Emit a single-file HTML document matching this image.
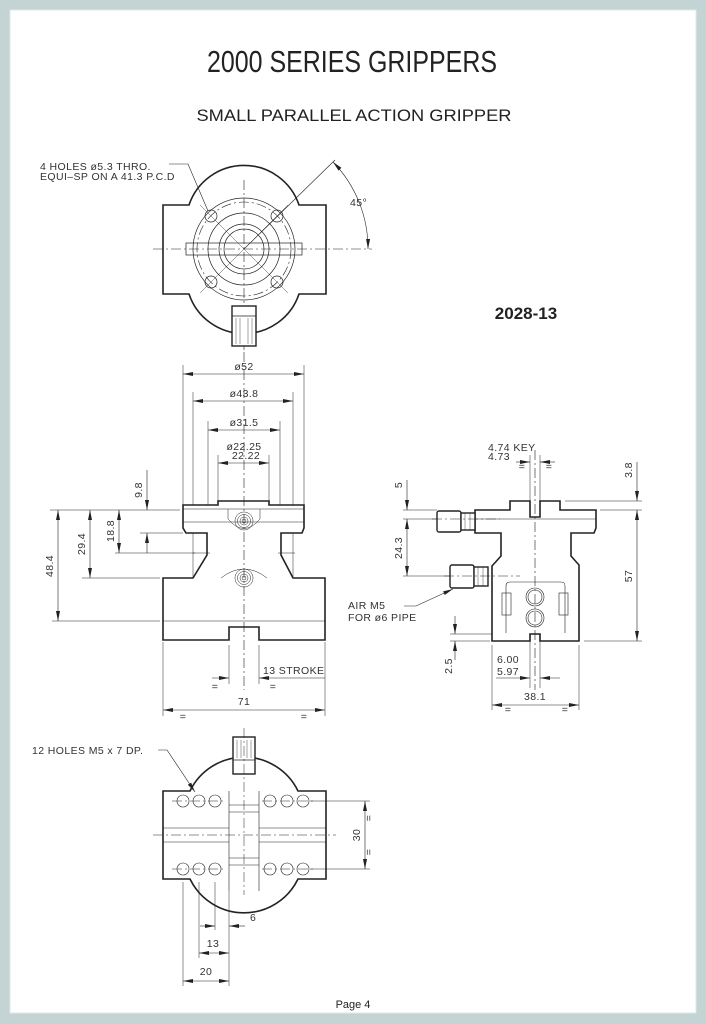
<!DOCTYPE html>
<html><head><meta charset="utf-8"><style>
html,body{margin:0;padding:0;background:#c4d4d4;}
svg{display:block;}
text{font-family:"Liberation Sans",sans-serif;fill:#222;}
.d{font-size:10.5px;fill:#333;letter-spacing:0.4px;}
</style></head><body>
<svg width="706" height="1024" viewBox="0 0 706 1024" xmlns="http://www.w3.org/2000/svg">
<defs>
<marker id="a" markerWidth="10" markerHeight="6" refX="10" refY="3" orient="auto-start-reverse" markerUnits="userSpaceOnUse">
<path d="M0,1 L10,3 L0,5 Z" fill="#222"/></marker>
</defs>
<rect x="0" y="0" width="706" height="1024" fill="#c4d4d4"/>
<rect x="10" y="10" width="686" height="1003" fill="#fff" stroke="#dde8e8" stroke-width="1"/>

<text x="352" y="72" font-size="31" text-anchor="middle" textLength="290" lengthAdjust="spacingAndGlyphs">2000 SERIES GRIPPERS</text>
<text x="354" y="121" font-size="17" text-anchor="middle" textLength="315" lengthAdjust="spacingAndGlyphs">SMALL PARALLEL ACTION GRIPPER</text>
<text x="526" y="319" font-size="17" font-weight="bold" text-anchor="middle">2028-13</text>
<text x="353" y="1008" font-size="11" text-anchor="middle">Page 4</text>

<g fill="none" stroke="#222">
<!-- ===== TOP VIEW ===== -->
<path d="M163,205 H189 A58,58 0 0 1 299,205 H326 V294 H299 A58,58 0 0 1 189,294 H163 Z" stroke-width="1.6" fill="#fff"/>
<g stroke-width="0.6" stroke-dasharray="10,3,2,3">
<line x1="153" y1="249" x2="372" y2="249"/>
<line x1="244" y1="180" x2="244" y2="350"/>
<circle cx="244" cy="249" r="47"/>
</g>
<g stroke-width="0.7">
<circle cx="244" cy="249" r="51"/>
<circle cx="244" cy="249" r="36"/>
<circle cx="244" cy="249" r="25"/>
<circle cx="244" cy="249" r="20"/>
<rect x="186" y="243" width="116" height="12"/>
<circle cx="211" cy="216" r="6"/><circle cx="277" cy="216" r="6"/>
<circle cx="211" cy="282" r="6"/><circle cx="277" cy="282" r="6"/>
<line x1="200" y1="205" x2="288" y2="293" stroke-width="0.4"/>
<line x1="288" y1="205" x2="200" y2="293" stroke-width="0.4"/>
</g>
<rect x="232" y="306" width="24" height="40" stroke-width="1.4" fill="#fff"/>
<line x1="232" y1="316" x2="256" y2="316" stroke-width="0.8"/>
<g stroke-width="0.4"><line x1="236" y1="318" x2="236" y2="344"/><line x1="240" y1="318" x2="240" y2="344"/><line x1="248" y1="318" x2="248" y2="344"/><line x1="252" y1="318" x2="252" y2="344"/></g>
<g stroke-width="0.6">
<polyline points="169,164 188,164 208,211"/>
<line x1="244" y1="249" x2="335" y2="160"/>
<path d="M333,162 A124,124 0 0 1 368,249" marker-start="url(#a)" marker-end="url(#a)"/>
</g>

<!-- ===== FRONT VIEW ===== -->
<g stroke-width="0.5">
<line x1="183" y1="365" x2="183" y2="505"/><line x1="304" y1="365" x2="304" y2="505"/>
<line x1="193" y1="392" x2="193" y2="578"/><line x1="293" y1="392" x2="293" y2="578"/>
<line x1="208" y1="421" x2="208" y2="540"/><line x1="280" y1="421" x2="280" y2="540"/>
<line x1="218" y1="455" x2="218" y2="501"/><line x1="269" y1="455" x2="269" y2="501"/>
</g>
<g stroke-width="0.6">
<line x1="183" y1="374" x2="304" y2="374" marker-start="url(#a)" marker-end="url(#a)"/>
<line x1="193" y1="401" x2="293" y2="401" marker-start="url(#a)" marker-end="url(#a)"/>
<line x1="208" y1="430" x2="280" y2="430" marker-start="url(#a)" marker-end="url(#a)"/>
<line x1="218" y1="463" x2="269" y2="463" marker-start="url(#a)" marker-end="url(#a)"/>
</g>
<path d="M183,505 H218 V501 H269 V505 H304 V528 L302,533 H281 V555 L293,578 H325 V640 H259 V627 H229 V640 H163 V578 H193 L207,555 V533 H186 L183,528 Z" stroke-width="1.6" fill="#fff"/>
<g stroke-width="0.5">
<line x1="183" y1="509" x2="304" y2="509"/>
<line x1="163" y1="621" x2="325" y2="621"/>
<line x1="183" y1="522" x2="304" y2="522"/>
<line x1="193" y1="553" x2="210" y2="553"/><line x1="278" y1="553" x2="295" y2="553"/>
<path d="M221,578 Q244,560 267,578"/>
<path d="M228,509 V519 Q244,538 260,519 V509"/>
<circle cx="244" cy="521" r="9"/><circle cx="244" cy="521" r="6.5"/><circle cx="244" cy="521" r="4"/><circle cx="244" cy="521" r="2"/>
<circle cx="244" cy="578" r="9"/><circle cx="244" cy="578" r="6.5"/><circle cx="244" cy="578" r="4"/><circle cx="244" cy="578" r="2"/>
</g>
<line x1="244" y1="352" x2="244" y2="690" stroke-width="0.6" stroke-dasharray="10,3,2,3"/>
<g stroke-width="0.5">
<line x1="50" y1="510" x2="180" y2="510"/>
<line x1="82" y1="578" x2="160" y2="578"/>
<line x1="115" y1="553" x2="195" y2="553"/>
<line x1="140" y1="533" x2="183" y2="533"/>
<line x1="52" y1="621" x2="160" y2="621"/>
<line x1="163" y1="642" x2="163" y2="716"/><line x1="325" y1="642" x2="325" y2="716"/>
<line x1="229" y1="645" x2="229" y2="684"/><line x1="259" y1="645" x2="259" y2="684"/>
</g>
<g stroke-width="0.6">
<line x1="58" y1="510" x2="58" y2="621" marker-start="url(#a)" marker-end="url(#a)"/>
<line x1="90" y1="510" x2="90" y2="578" marker-start="url(#a)" marker-end="url(#a)"/>
<line x1="119" y1="510" x2="119" y2="553" marker-start="url(#a)" marker-end="url(#a)"/>
<line x1="147" y1="470" x2="147" y2="510" marker-end="url(#a)"/>
<line x1="147" y1="553" x2="147" y2="533" marker-end="url(#a)"/>
<line x1="212" y1="678" x2="229" y2="678" marker-end="url(#a)"/>
<line x1="325" y1="678" x2="259" y2="678" marker-end="url(#a)"/>
<line x1="163" y1="710" x2="325" y2="710" marker-start="url(#a)" marker-end="url(#a)"/>
</g>

<!-- ===== SIDE VIEW ===== -->
<g stroke-width="0.5">
<line x1="530" y1="455" x2="530" y2="517"/><line x1="540" y1="455" x2="540" y2="517"/>
<line x1="530" y1="634" x2="530" y2="688"/><line x1="540" y1="634" x2="540" y2="688"/>
<line x1="492" y1="645" x2="492" y2="710"/><line x1="579" y1="645" x2="579" y2="710"/>
<line x1="403" y1="510" x2="437" y2="510"/>
<line x1="403" y1="519" x2="437" y2="519"/>
<line x1="403" y1="576" x2="450" y2="576"/>
<line x1="565" y1="501" x2="642" y2="501"/>
<line x1="600" y1="510" x2="642" y2="510"/>
<line x1="584" y1="641" x2="642" y2="641"/>
<line x1="450" y1="634" x2="528" y2="634"/>
<line x1="450" y1="641" x2="490" y2="641"/>
</g>
<path d="M475,510 H510 V501 H530 V517 H540 V501 H560 V510 H596 V528 L594,533 H571 V556 L579,565 V641 H540 V634 H530 V641 H492 V566 L501,556 V533 H475 Z" stroke-width="1.6" fill="#fff"/>
<g stroke-width="0.6">
<line x1="475" y1="519" x2="596" y2="519"/>
<path d="M506,633 V586 Q506,582 510,582 H561 Q565,582 565,586 V633"/>
<rect x="502" y="593" width="9" height="22"/><rect x="559" y="593" width="9" height="22"/>
<circle cx="535" cy="597" r="9"/><circle cx="535" cy="597" r="7"/>
<circle cx="535" cy="618" r="9"/><circle cx="535" cy="618" r="7"/>
</g>
<g stroke-width="1.4" fill="#fff">
<rect x="437" y="511" width="24" height="21" rx="2"/><rect x="461" y="513" width="14" height="17"/>
<rect x="450" y="565" width="24" height="23" rx="2"/><rect x="474" y="567" width="14" height="19"/>
</g>
<g stroke-width="0.4">
<line x1="465" y1="513" x2="465" y2="530"/><line x1="470" y1="513" x2="470" y2="530"/>
<line x1="478" y1="567" x2="478" y2="586"/><line x1="483" y1="567" x2="483" y2="586"/>
</g>
<g stroke-width="0.6" stroke-dasharray="10,3,2,3">
<line x1="535" y1="450" x2="535" y2="690"/>
<line x1="432" y1="519" x2="500" y2="519"/>
<line x1="444" y1="576" x2="520" y2="576"/>
</g>
<g stroke-width="0.6">
<line x1="516" y1="462" x2="530" y2="462" marker-end="url(#a)"/>
<line x1="555" y1="462" x2="540" y2="462" marker-end="url(#a)"/>
<line x1="407" y1="480" x2="407" y2="510" marker-end="url(#a)"/>
<line x1="407" y1="519" x2="407" y2="576" marker-start="url(#a)" marker-end="url(#a)"/>
<line x1="637" y1="462" x2="637" y2="501" marker-end="url(#a)"/>
<line x1="637" y1="510" x2="637" y2="641" marker-start="url(#a)" marker-end="url(#a)"/>
<line x1="455" y1="616" x2="455" y2="634" marker-end="url(#a)"/>
<line x1="455" y1="660" x2="455" y2="641" marker-end="url(#a)"/>
<line x1="496" y1="678" x2="530" y2="678" marker-end="url(#a)"/>
<line x1="560" y1="678" x2="540" y2="678" marker-end="url(#a)"/>
<line x1="492" y1="705" x2="579" y2="705" marker-start="url(#a)" marker-end="url(#a)"/>
<polyline points="404,606 416,606 453,589" marker-end="url(#a)"/>
</g>

<!-- ===== BOTTOM VIEW ===== -->
<path d="M163,791 H190 A60,60 0 0 1 298,791 H326 V879 H298 A60,60 0 0 1 190,879 H163 Z" stroke-width="1.6" fill="#fff"/>
<rect x="233" y="737" width="22" height="37" stroke-width="1.4" fill="#fff"/>
<line x1="233" y1="760" x2="255" y2="760" stroke-width="0.8"/>
<g stroke-width="0.4"><line x1="237" y1="740" x2="237" y2="758"/><line x1="241" y1="740" x2="241" y2="758"/><line x1="247" y1="740" x2="247" y2="758"/><line x1="251" y1="740" x2="251" y2="758"/></g>
<g stroke-width="0.6">
<line x1="229" y1="791" x2="229" y2="891"/><line x1="259" y1="791" x2="259" y2="891"/>
<line x1="229" y1="805" x2="259" y2="805"/><line x1="229" y1="812" x2="259" y2="812"/>
<line x1="229" y1="858" x2="259" y2="858"/><line x1="229" y1="865" x2="259" y2="865"/>
<line x1="163" y1="828" x2="229" y2="828"/><line x1="259" y1="828" x2="326" y2="828"/>
<line x1="163" y1="842" x2="229" y2="842"/><line x1="259" y1="842" x2="326" y2="842"/>
<circle cx="183" cy="801" r="6"/><circle cx="199" cy="801" r="6"/><circle cx="215" cy="801" r="6"/>
<circle cx="270" cy="801" r="6"/><circle cx="287" cy="801" r="6"/><circle cx="303" cy="801" r="6"/>
<circle cx="183" cy="869" r="6"/><circle cx="199" cy="869" r="6"/><circle cx="215" cy="869" r="6"/>
<circle cx="270" cy="869" r="6"/><circle cx="287" cy="869" r="6"/><circle cx="303" cy="869" r="6"/>
</g>
<g stroke-width="0.5" stroke-dasharray="10,3,2,3">
<line x1="172" y1="801" x2="225" y2="801"/><line x1="262" y1="801" x2="314" y2="801"/>
<line x1="172" y1="869" x2="225" y2="869"/><line x1="262" y1="869" x2="314" y2="869"/>
<line x1="153" y1="835" x2="336" y2="835"/>
<line x1="244" y1="728" x2="244" y2="895"/>
</g>
<g stroke-width="0.5">
<line x1="310" y1="801" x2="370" y2="801"/><line x1="310" y1="869" x2="370" y2="869"/>
<line x1="183" y1="882" x2="183" y2="986"/><line x1="199" y1="882" x2="199" y2="958"/>
<line x1="215" y1="882" x2="215" y2="930"/><line x1="229" y1="891" x2="229" y2="986"/>
</g>
<g stroke-width="0.6">
<line x1="365" y1="801" x2="365" y2="869" marker-start="url(#a)" marker-end="url(#a)"/>
<line x1="200" y1="926" x2="215" y2="926" marker-end="url(#a)"/>
<line x1="245" y1="926" x2="229" y2="926" marker-end="url(#a)"/>
<line x1="199" y1="953" x2="229" y2="953" marker-start="url(#a)" marker-end="url(#a)"/>
<line x1="183" y1="981" x2="229" y2="981" marker-start="url(#a)" marker-end="url(#a)"/>
<polyline points="158,750 167,750 195,792" marker-end="url(#a)"/>
</g>
</g>

<!-- dimension text -->
<g class="d">
<text x="40" y="170" class="d">4  HOLES  ø5.3  THRO.</text>
<text x="40" y="180" class="d">EQUI–SP  ON  A  41.3  P.C.D</text>
<text x="350" y="206" class="d">45°</text>
<text x="244" y="370" class="d" text-anchor="middle">ø52</text>
<text x="244" y="397" class="d" text-anchor="middle">ø43.8</text>
<text x="244" y="426" class="d" text-anchor="middle">ø31.5</text>
<text x="244" y="450" class="d" text-anchor="middle">ø22.25</text>
<text x="246" y="459" class="d" text-anchor="middle">22.22</text>
<text class="d" transform="translate(142,490) rotate(-90)" text-anchor="middle">9.8</text>
<text class="d" transform="translate(114,531) rotate(-90)" text-anchor="middle">18.8</text>
<text class="d" transform="translate(85,544) rotate(-90)" text-anchor="middle">29.4</text>
<text class="d" transform="translate(53,566) rotate(-90)" text-anchor="middle">48.4</text>
<text x="263" y="674" class="d">13  STROKE</text>
<text x="215" y="690" class="d" text-anchor="middle">=</text>
<text x="273" y="690" class="d" text-anchor="middle">=</text>
<text x="244" y="705" class="d" text-anchor="middle">71</text>
<text x="183" y="720" class="d" text-anchor="middle">=</text>
<text x="304" y="720" class="d" text-anchor="middle">=</text>
<text x="488" y="451" class="d">4.74  KEY</text>
<text x="488" y="460" class="d">4.73</text>
<text x="522" y="470" class="d" text-anchor="middle" font-size="8">=</text>
<text x="549" y="470" class="d" text-anchor="middle" font-size="8">=</text>
<text class="d" transform="translate(402,485) rotate(-90)" text-anchor="middle">5</text>
<text class="d" transform="translate(402,548) rotate(-90)" text-anchor="middle">24.3</text>
<text class="d" transform="translate(632,470) rotate(-90)" text-anchor="middle">3.8</text>
<text class="d" transform="translate(632,576) rotate(-90)" text-anchor="middle">57</text>
<text class="d" transform="translate(452,666) rotate(-90)" text-anchor="middle">2.5</text>
<text x="348" y="609" class="d">AIR  M5</text>
<text x="348" y="621" class="d">FOR  ø6  PIPE</text>
<text x="497" y="663" class="d">6.00</text>
<text x="497" y="675" class="d">5.97</text>
<text x="535" y="700" class="d" text-anchor="middle">38.1</text>
<text x="508" y="713" class="d" text-anchor="middle" font-size="8">=</text>
<text x="565" y="713" class="d" text-anchor="middle" font-size="8">=</text>
<text x="32" y="754" class="d">12  HOLES  M5  x  7  DP.</text>
<text class="d" transform="translate(360,835) rotate(-90)" text-anchor="middle">30</text>
<text class="d" transform="translate(372,818) rotate(-90)" text-anchor="middle" font-size="8">=</text>
<text class="d" transform="translate(372,852) rotate(-90)" text-anchor="middle" font-size="8">=</text>
<text x="250" y="921" class="d">6</text>
<text x="213" y="947" class="d" text-anchor="middle">13</text>
<text x="206" y="975" class="d" text-anchor="middle">20</text>
</g>
</svg>
</body></html>
